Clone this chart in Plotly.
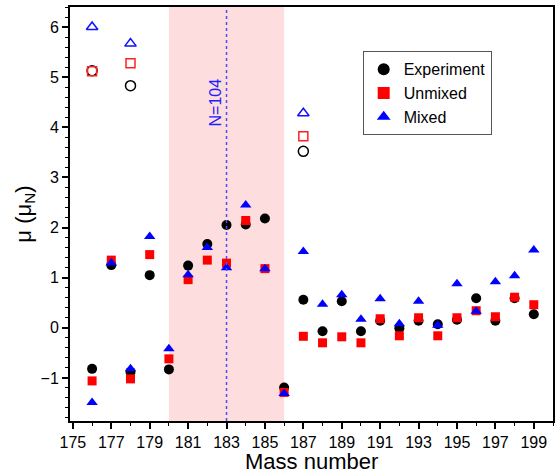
import plotly.graph_objects as go

mass = list(range(176, 200))
experiment = [-0.82, 1.25, -0.88, 1.05, -0.83, 1.24, 1.67, 2.05, 2.06, 2.18, -1.19, 0.56,
              -0.07, 0.53, -0.07, 0.14, -0.01, 0.14, 0.07, 0.16, 0.59, 0.14, 0.59, 0.27]
unmixed = [-1.06, 1.35, -1.02, 1.46, -0.62, 0.96, 1.35, 1.29, 2.14, 1.18, -1.29, -0.17,
           -0.30, -0.18, -0.30, 0.18, -0.16, 0.20, -0.16, 0.20, 0.34, 0.22, 0.61, 0.46]
mixed = [-1.49, 1.29, -0.82, 1.82, -0.42, 1.06, 1.60, 1.20, 2.45, 1.18, -1.31, 1.52,
         0.47, 0.66, 0.17, 0.58, 0.08, 0.53, 0.05, 0.88, 0.33, 0.92, 1.04, 1.55]

open_mass = [176, 178, 187]
experiment_open = [5.13, 4.83, 3.52]
unmixed_open = [5.12, 5.28, 3.82]
mixed_open = [6.00, 5.67, 4.28]

x_ticks = list(range(175, 200, 2))
shade_range = [180, 186]
n104_mass = 183

FONT = "Arial, Liberation Sans, sans-serif"

fig = go.Figure()

fig.add_trace(go.Scatter(x=open_mass, y=experiment_open, mode="markers", showlegend=False,
                         marker=dict(symbol="circle-open", size=10, color="black", line=dict(width=1.5))))
fig.add_trace(go.Scatter(x=open_mass, y=unmixed_open, mode="markers", showlegend=False,
                         marker=dict(symbol="square-open", size=9, color="#ff2020", line=dict(width=1.5))))
fig.add_trace(go.Scatter(x=open_mass, y=mixed_open, mode="markers", showlegend=False,
                         marker=dict(symbol="triangle-up-open", size=10, color="#1010ff", line=dict(width=1.5))))

fig.add_trace(go.Scatter(x=mass, y=experiment, mode="markers", name="Experiment",
                         marker=dict(symbol="circle", size=10, color="black")))
fig.add_trace(go.Scatter(x=mass, y=unmixed, mode="markers", name="Unmixed",
                         marker=dict(symbol="square", size=9, color="#ff0000")))
fig.add_trace(go.Scatter(x=mass, y=mixed, mode="markers", name="Mixed",
                         marker=dict(symbol="triangle-up", size=10, color="#0000ff")))

fig.add_shape(type="rect", xref="x", yref="paper", x0=shade_range[0], x1=shade_range[1],
              y0=0, y1=1, fillcolor="rgb(253,221,221)", line=dict(width=0), layer="below")
fig.add_shape(type="line", xref="x", yref="paper", x0=n104_mass, x1=n104_mass, y0=0, y1=1,
              line=dict(color="#4b4bff", width=1.5, dash="dot"))
fig.add_annotation(x=n104_mass, xref="x", y=0.831, yref="paper", text="N=104", textangle=-90,
                   showarrow=False, xshift=-11, font=dict(family=FONT, size=16, color="#2020ff"))
fig.add_annotation(x=0.5, xref="paper", y=-0.099, yref="paper", text="Mass number",
                   showarrow=False, xanchor="center", yanchor="middle",
                   font=dict(family=FONT, size=22, color="black"))

fig.update_layout(
    width=556, height=473,
    margin=dict(l=70, r=3, t=7, b=52),
    paper_bgcolor="white", plot_bgcolor="white",
    font=dict(family=FONT, size=16, color="black"),
    showlegend=True,
    legend=dict(x=0.606, y=0.893, xanchor="left", yanchor="top",
                bordercolor="#555555", borderwidth=1, bgcolor="white",
                font=dict(family=FONT, size=16), tracegroupgap=0, itemsizing="constant"),
)

fig.update_xaxes(range=[174.85, 200], tickmode="array", tickvals=x_ticks, automargin=False,
                 ticks="outside", ticklen=6, tickwidth=1.5, tickcolor="black",
                 minor=dict(dtick=1, tick0=175, ticks="outside", ticklen=3, tickwidth=1, tickcolor="black"),
                 showline=True, linewidth=2, linecolor="black", mirror=True, showgrid=False, zeroline=False,
                 tickfont=dict(size=16))
fig.update_yaxes(range=[-1.86, 6.4], dtick=1, tick0=0, automargin=False,
                 ticks="outside", ticklen=6, tickwidth=1.5, tickcolor="black",
                 minor=dict(dtick=0.2, tick0=0, ticks="outside", ticklen=3, tickwidth=1, tickcolor="black"),
                 showline=True, linewidth=2, linecolor="black", mirror=True, showgrid=False, zeroline=False,
                 tickfont=dict(size=16),
                 title=dict(text="μ (μ<sub>N</sub>)", font=dict(size=22), standoff=3))

fig.write_html("out.html", config={"displayModeBar": False},
               post_script="document.body.style.margin='0';document.body.style.overflow='hidden';")
